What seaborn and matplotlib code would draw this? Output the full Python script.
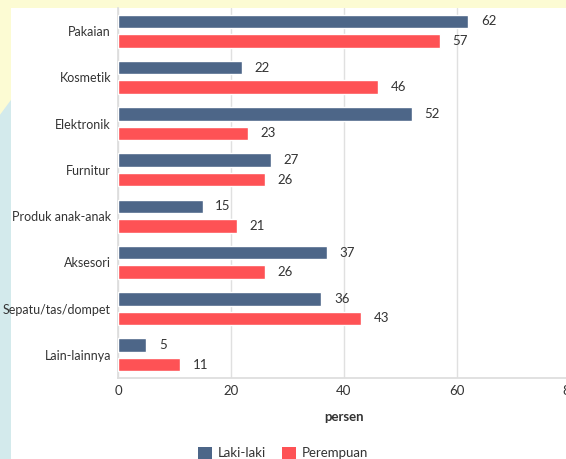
import matplotlib
matplotlib.use("Agg")
import matplotlib.pyplot as plt
import matplotlib.patches as mpatches
import seaborn as sns
import pandas as pd

categories = ["Pakaian", "Kosmetik", "Elektronik", "Furnitur", "Produk anak-anak",
              "Aksesori", "Sepatu/tas/dompet", "Lain-lainnya"]
laki = [62, 22, 52, 27, 15, 37, 36, 5]
perempuan = [57, 46, 23, 26, 21, 26, 43, 11]
series = ["Laki-laki", "Perempuan"]
colors = ["#4d6688", "#fe5255"]
xticks = [0, 20, 40, 60, 80]

df = pd.DataFrame({
    "kategori": categories * 2,
    "persen": laki + perempuan,
    "jenis": [series[0]] * len(categories) + [series[1]] * len(categories),
})

sns.set_theme(style="white")
plt.rcParams["font.family"] = ["Lato", "DejaVu Sans"]

W, H = 566, 459
fig = plt.figure(figsize=(W / 100, H / 100), dpi=100)
fig.patch.set_facecolor("#fcfbd3")
# decorative background patches
fig.patches.append(mpatches.Polygon([[0, 0], [0, 0.75], [0.03, 0.8], [0.03, 0]], closed=True,
                                    transform=fig.transFigure, facecolor="#d3eaec", edgecolor="none", zorder=-2))
fig.patches.append(mpatches.Rectangle((11 / W, 0), 1, (H - 8) / H, transform=fig.transFigure,
                                      facecolor="white", edgecolor="none", zorder=-1))

ax = fig.add_axes([118 / W, (H - 378) / H, 452 / W, 370 / H])
ax.set_facecolor("none")
sns.barplot(data=df, y="kategori", x="persen", hue="jenis", palette=colors, orient="h",
            width=0.84, gap=0.3, ax=ax, legend=False, saturation=1, zorder=3)

for cont in ax.containers:
    ax.bar_label(cont, padding=9, fontsize=9.5, color="#333333")

ax.set_xlim(0, 80)
ax.set_ylim(len(categories) - 0.5, -0.5)
ax.set_xticks(xticks)
ax.set_xticklabels([str(t) for t in xticks], fontsize=9.5, color="#333333")
ax.tick_params(axis="y", labelsize=9, labelcolor="#333333", length=0, pad=5)
ax.tick_params(axis="x", length=0, pad=5)
ax.grid(axis="x", color="#e0e0e0", linewidth=1, zorder=0)
ax.set_axisbelow(True)
for s in ["top", "right"]:
    ax.spines[s].set_visible(False)
ax.spines["left"].set_color("#dddddd")
ax.spines["bottom"].set_color("#dddddd")
ax.set_ylabel("")
ax.set_xlabel("persen", fontsize=9.5, fontweight="bold", color="#333333", labelpad=10)

handles = [mpatches.Patch(facecolor=c, edgecolor="none") for c in colors]
leg = fig.legend(handles, series, loc="center", bbox_to_anchor=(0.5, 0.013), ncol=2, frameon=False,
                 fontsize=9.5, handlelength=1.1, handleheight=1.1, columnspacing=1.2, handletextpad=0.4)
for t in leg.get_texts():
    t.set_color("#333333")

fig.savefig("out.png", dpi=100)
